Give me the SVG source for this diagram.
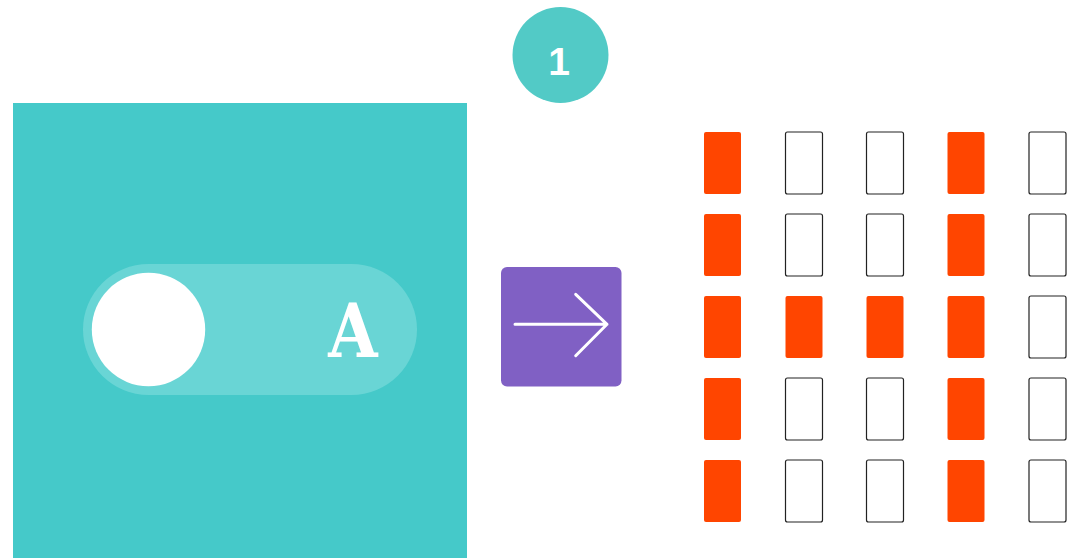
<svg xmlns="http://www.w3.org/2000/svg" width="1069" height="558" viewBox="0 0 1069 558">
<style>
.on{fill:#FF4500;}
.off{fill:#fff;stroke:#222;stroke-width:1.2;}
</style>
<rect width="1069" height="558" fill="#fff"/>
<g id="step-badge">
<circle cx="560.5" cy="55" r="48" fill="#52CAC6"/>
<text x="559" y="75" text-anchor="middle" font-family="Liberation Sans, Arial, sans-serif" font-weight="bold" font-size="39" fill="#fff">1</text>
</g>
<g id="toggle-panel">
<rect x="13" y="103" width="454" height="455" fill="#45C9C9"/>
<rect x="83" y="264" width="334" height="131" rx="65.5" fill="#69D5D5"/>
<circle cx="148.5" cy="329.5" r="56.7" fill="#fff"/>
<text transform="translate(353,357) scale(0.86,1)" text-anchor="middle" font-family="DejaVu Serif, serif" font-weight="bold" font-size="74" fill="#fff">A</text>
</g>
<g id="arrow-box">
<rect x="501" y="267" width="120.5" height="119.5" rx="6" fill="#8060C4"/>
<path d="M515 324.3 H607 M575.7 294.3 L607 324.3 L575.7 355.7" fill="none" stroke="#fff" stroke-width="3" stroke-linecap="round" stroke-linejoin="round"/>
</g>
<g id="grid">
<rect class="on" x="704" y="132" width="37" height="62" rx="2"/>
<rect class="off" x="785.5" y="132" width="37" height="62" rx="2"/>
<rect class="off" x="866.5" y="132" width="37" height="62" rx="2"/>
<rect class="on" x="947.5" y="132" width="37" height="62" rx="2"/>
<rect class="off" x="1029" y="132" width="37" height="62" rx="2"/>

<rect class="on" x="704" y="214" width="37" height="62" rx="2"/>
<rect class="off" x="785.5" y="214" width="37" height="62" rx="2"/>
<rect class="off" x="866.5" y="214" width="37" height="62" rx="2"/>
<rect class="on" x="947.5" y="214" width="37" height="62" rx="2"/>
<rect class="off" x="1029" y="214" width="37" height="62" rx="2"/>

<rect class="on" x="704" y="296" width="37" height="62" rx="2"/>
<rect class="on" x="785.5" y="296" width="37" height="62" rx="2"/>
<rect class="on" x="866.5" y="296" width="37" height="62" rx="2"/>
<rect class="on" x="947.5" y="296" width="37" height="62" rx="2"/>
<rect class="off" x="1029" y="296" width="37" height="62" rx="2"/>

<rect class="on" x="704" y="378" width="37" height="62" rx="2"/>
<rect class="off" x="785.5" y="378" width="37" height="62" rx="2"/>
<rect class="off" x="866.5" y="378" width="37" height="62" rx="2"/>
<rect class="on" x="947.5" y="378" width="37" height="62" rx="2"/>
<rect class="off" x="1029" y="378" width="37" height="62" rx="2"/>

<rect class="on" x="704" y="460" width="37" height="62" rx="2"/>
<rect class="off" x="785.5" y="460" width="37" height="62" rx="2"/>
<rect class="off" x="866.5" y="460" width="37" height="62" rx="2"/>
<rect class="on" x="947.5" y="460" width="37" height="62" rx="2"/>
<rect class="off" x="1029" y="460" width="37" height="62" rx="2"/>
</g>
</svg>
